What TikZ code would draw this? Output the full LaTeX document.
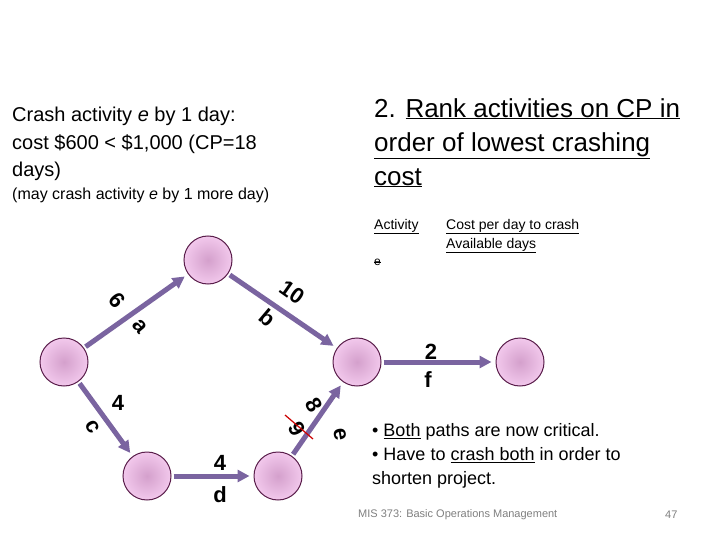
\documentclass[tikz,border=0pt]{standalone}
\usepackage{fontspec}
\setmainfont{Liberation Sans}
\usetikzlibrary{arrows.meta}
\newcommand{\ul}[1]{\underline{#1}}
\newcommand{\so}[1]{\rlap{\raisebox{0.25em}{\rule{0.55em}{0.4pt}}}#1}
\definecolor{evin}{RGB}{212,160,204}
\definecolor{evout}{RGB}{242,200,236}
\definecolor{evline}{RGB}{90,30,75}
\definecolor{actc}{RGB}{122,100,160}
\begin{document}
\begin{tikzpicture}[x=1pt,y=-1pt,
  ev/.style={circle,minimum size=48pt,inner sep=0pt,draw=evline,line width=1pt,inner color=evin,outer color=evout},
  act/.style={line width=5pt,draw=actc,-{Triangle[length=12pt,width=12pt]},shorten >=4pt,shorten <=2pt},
  lbl/.style={font=\fontsize{22}{22}\selectfont\bfseries,inner sep=0pt}]
\useasboundingbox (0,0) rectangle (720,540);
\fill[white] (0,0) rectangle (720,540);
\node[ev] (n1) at (64,362) {};
\node[ev] (n2) at (208,260) {};
\node[ev] (n3) at (357,362) {};
\node[ev] (n4) at (147,476) {};
\node[ev] (n5) at (278,476) {};
\node[ev] (n6) at (520,362) {};
\draw[act] (n1) -- (n2);
\draw[act] (n2) -- (n3);
\draw[act] (n1) -- (n4);
\draw[act] (n4) -- (n5);
\draw[act] (n5) -- (n3);
\draw[act] (n3) -- (n6);
\node[lbl,rotate=-50] (l6) at (117,300) {6};
\node[lbl,rotate=-50] (la) at (140,326) {a};
\node[lbl,rotate=-35] (l10) at (292,292) {10};
\node[lbl,rotate=-40] (lb) at (268,318) {b};
\node[lbl] (l4c) at (118,403) {4};
\node[lbl,rotate=-60] (lc) at (93,427) {c};
\node[lbl] (l4d) at (220,463) {4};
\node[lbl] (ld) at (220,495) {d};
\node[lbl,rotate=-60] (l8) at (314,405) {8};
\node[lbl,rotate=-60] (l9) at (297,429) {9};
\draw[red!80!black,line width=1.2pt] (285,415) -- (313,439);
\node[lbl,rotate=-80] (le) at (340,435) {e};
\node[lbl] (l2) at (431,352) {2};
\node[lbl] (lf) at (428,380) {f};
\node[anchor=north west,align=left,font=\fontsize{20}{27.5}\selectfont,inner sep=0pt] (t1) at (12,107)
 {Crash activity \textit{e} by 1 day:\\ cost \$600 < \$1,000 (CP=18\\ days)};
\node[anchor=north west,font=\fontsize{16}{16}\selectfont,inner sep=0pt] (t2) at (12,188) {(may crash activity \textit{e} by 1 more day)};
\node[anchor=north west,align=left,font=\fontsize{26}{34}\selectfont,inner sep=0pt] (t3) at (374,98)
 {2. \ul{Rank activities on CP in}\\ \ul{order of lowest crashing}\\ \ul{cost}};
\node[anchor=north west,font=\fontsize{14}{14}\selectfont,inner sep=0pt] (t4) at (374,219) {\ul{Activity}};
\node[anchor=north west,align=left,font=\fontsize{14}{19}\selectfont,inner sep=0pt] (t5) at (446,219) {\ul{Cost per day to crash}\\ \ul{Available days}};
\node[anchor=north west,font=\fontsize{12}{12}\selectfont,inner sep=0pt] (t6) at (374,259) {\so{e}};
\node[anchor=north west,align=left,font=\fontsize{18}{24}\selectfont,inner sep=0pt] (t7) at (372,423)
 {• \ul{Both} paths are now critical.\\ • Have to \ul{crash both} in order to\\ shorten project.};
\node[anchor=west,text=gray,font=\fontsize{11}{11}\selectfont,inner sep=0pt] (t8) at (358,515) {MIS 373: Basic Operations Management};
\node[anchor=west,text=gray,font=\fontsize{11}{11}\selectfont,inner sep=0pt] (t9) at (665,515) {47};
\end{tikzpicture}
\end{document}
